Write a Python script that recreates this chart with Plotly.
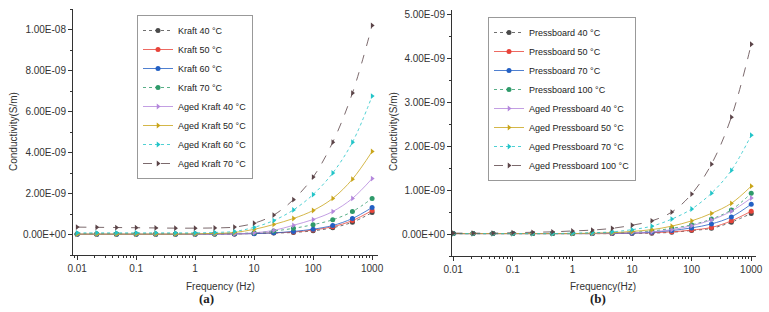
import plotly.graph_objects as go

freq = [0.01, 0.0215, 0.0464, 0.1, 0.215, 0.464, 1, 2.15, 4.64, 10, 21.5, 46.4, 100, 215, 464, 1000]

# Panel (a): conductivity in units of 1e-9 S/m
kraft_names = ["Kraft 40 °C", "Kraft 50 °C", "Kraft 60 °C", "Kraft 70 °C",
               "Aged Kraft 40 °C", "Aged Kraft 50 °C", "Aged Kraft 60 °C", "Aged Kraft 70 °C"]
kraft40 = [0.02, 0.02, 0.02, 0.02, 0.02, 0.02, 0.02, 0.02, 0.03, 0.05, 0.07, 0.10, 0.18, 0.33, 0.60, 1.07]
kraft50 = [0.01, 0.01, 0.01, 0.01, 0.01, 0.01, 0.01, 0.02, 0.03, 0.05, 0.08, 0.12, 0.22, 0.38, 0.68, 1.17]
kraft60 = [0.01, 0.01, 0.01, 0.01, 0.01, 0.01, 0.01, 0.02, 0.03, 0.04, 0.08, 0.15, 0.26, 0.44, 0.78, 1.32]
kraft70 = [0.02, 0.02, 0.02, 0.02, 0.02, 0.02, 0.02, 0.03, 0.05, 0.08, 0.17, 0.30, 0.48, 0.72, 1.12, 1.76]
aged_kraft40 = [0.01, 0.01, 0.01, 0.01, 0.01, 0.01, 0.01, 0.02, 0.03, 0.08, 0.20, 0.45, 0.73, 1.12, 1.76, 2.73]
aged_kraft50 = [0.02, 0.02, 0.02, 0.02, 0.02, 0.02, 0.03, 0.05, 0.10, 0.25, 0.49, 0.78, 1.17, 1.76, 2.70, 4.05]
aged_kraft60 = [0.08, 0.08, 0.08, 0.08, 0.08, 0.08, 0.08, 0.10, 0.15, 0.35, 0.68, 1.20, 1.95, 3.00, 4.50, 6.75]
aged_kraft70 = [0.36, 0.35, 0.34, 0.33, 0.32, 0.31, 0.31, 0.32, 0.36, 0.55, 0.95, 1.70, 2.80, 4.50, 6.90, 10.20]

# Panel (b)
pb_names = ["Pressboard 40 °C", "Pressboard 50 °C", "Pressboard 70 °C", "Pressboard 100 °C",
            "Aged Pressboard 40 °C", "Aged Pressboard 50 °C", "Aged Pressboard 70 °C", "Aged Pressboard 100 °C"]
pb40 = [0.01, 0.01, 0.01, 0.01, 0.01, 0.01, 0.01, 0.01, 0.01, 0.02, 0.02, 0.04, 0.08, 0.13, 0.27, 0.47]
pb50 = [0.01, 0.01, 0.01, 0.01, 0.01, 0.01, 0.01, 0.01, 0.01, 0.02, 0.03, 0.05, 0.09, 0.15, 0.30, 0.52]
pb70 = [0.01, 0.01, 0.01, 0.01, 0.01, 0.01, 0.01, 0.01, 0.02, 0.02, 0.04, 0.08, 0.14, 0.23, 0.39, 0.68]
pb100 = [0.01, 0.01, 0.01, 0.01, 0.01, 0.01, 0.01, 0.02, 0.03, 0.04, 0.07, 0.13, 0.21, 0.34, 0.55, 0.93]
aged_pb40 = [0.01, 0.01, 0.01, 0.01, 0.01, 0.01, 0.01, 0.01, 0.02, 0.03, 0.05, 0.10, 0.19, 0.32, 0.52, 0.82]
aged_pb50 = [0.01, 0.01, 0.01, 0.01, 0.01, 0.01, 0.01, 0.02, 0.03, 0.06, 0.10, 0.18, 0.30, 0.47, 0.70, 1.09]
aged_pb70 = [0.01, 0.01, 0.01, 0.01, 0.01, 0.01, 0.02, 0.03, 0.05, 0.10, 0.18, 0.34, 0.57, 0.93, 1.45, 2.25]
aged_pb100 = [0.02, 0.02, 0.02, 0.03, 0.04, 0.05, 0.07, 0.09, 0.13, 0.20, 0.30, 0.50, 0.91, 1.59, 2.66, 4.32]

x_tickvals = [0.01, 0.1, 1, 10, 100, 1000]
x_ticktext = ["0.01", "0.1", "1", "10", "100", "1000"]
ya_ticks = [0, 2e-9, 4e-9, 6e-9, 8e-9, 1e-8]
yb_ticks = [0, 1e-9, 2e-9, 3e-9, 4e-9, 5e-9]

colors = ["#4a4a4a", "#e8443a", "#2360c4", "#2f9a6a", "#b487dc", "#c9a51a", "#22c4c8", "#5b4448"]
symbols = ["circle", "circle", "circle", "circle",
           "triangle-right", "triangle-right", "triangle-right", "triangle-right"]
dashes = ["dot", "solid", "solid", "dot", "solid", "solid", "dot", "dash"]

W, H = 769, 312
def px_x(p): return p / W
def px_y(p): return 1 - p / H

fig = go.Figure()
series_a = [kraft40, kraft50, kraft60, kraft70, aged_kraft40, aged_kraft50, aged_kraft60, aged_kraft70]
series_b = [pb40, pb50, pb70, pb100, aged_pb40, aged_pb50, aged_pb70, aged_pb100]
for i, (name, vals) in enumerate(zip(kraft_names, series_a)):
    fig.add_trace(go.Scatter(
        x=freq, y=[v * 1e-9 for v in vals], name=name, mode="lines+markers",
        line=dict(color=colors[i], width=0.8, dash=dashes[i], shape="spline"),
        marker=dict(color=colors[i], symbol=symbols[i], size=5),
        xaxis="x", yaxis="y", legend="legend"))
for i, (name, vals) in enumerate(zip(pb_names, series_b)):
    fig.add_trace(go.Scatter(
        x=freq, y=[v * 1e-9 for v in vals], name=name, mode="lines+markers",
        line=dict(color=colors[i], width=0.8, dash=dashes[i], shape="spline"),
        marker=dict(color=colors[i], symbol=symbols[i], size=5),
        xaxis="x2", yaxis="y2", legend="legend2"))

tickfont = dict(family="Liberation Sans, Arial, sans-serif", size=10, color="#333")
common_x = dict(type="log", tickvals=x_tickvals, ticktext=x_ticktext, showline=True,
                linecolor="#333", linewidth=1, ticks="outside", ticklen=4, tickcolor="#333",
                showgrid=False, zeroline=False, tickfont=tickfont, automargin=False,
                minor=dict(ticks="outside", ticklen=2, tickcolor="#333", dtick="D1", showgrid=False))
common_y = dict(showline=True, linecolor="#333", linewidth=1, ticks="outside", ticklen=4,
                tickcolor="#333", showgrid=False, zeroline=False, tickfont=tickfont, automargin=False)

fig.update_layout(
    width=W, height=H, margin=dict(l=0, r=0, t=0, b=0, autoexpand=False),
    paper_bgcolor="white", plot_bgcolor="white",
    font=dict(family="Liberation Sans, Arial, sans-serif", size=10, color="#333"),
    xaxis=dict(domain=[px_x(73), px_x(378)], range=[-2.07, 3.1], anchor="y", **common_x),
    xaxis2=dict(domain=[px_x(452), px_x(756)], range=[-2.02, 3.08], anchor="y2", **common_x),
    yaxis=dict(domain=[px_y(255), px_y(9)], range=[-1e-9, 1.1e-8], anchor="x",
               tickvals=ya_ticks, ticktext=[f"{v:.2E}" for v in ya_ticks],
               minor=dict(ticks="outside", ticklen=2, tickcolor="#333", dtick=1e-9, showgrid=False),
               **common_y),
    yaxis2=dict(domain=[px_y(256), px_y(10)], range=[-0.5e-9, 5.1e-9], anchor="x2",
                tickvals=yb_ticks, ticktext=[f"{v:.2E}" for v in yb_ticks],
                minor=dict(ticks="outside", ticklen=2, tickcolor="#333", dtick=0.5e-9, showgrid=False),
                **common_y),
    legend=dict(x=px_x(137), y=px_y(15), xanchor="left", yanchor="top",
                bordercolor="#999", borderwidth=1, bgcolor="white",
                font=dict(size=9, color="#222"), tracegroupgap=0, itemwidth=30),
    legend2=dict(x=px_x(488), y=px_y(17), xanchor="left", yanchor="top",
                 bordercolor="#999", borderwidth=1, bgcolor="white",
                 font=dict(size=9, color="#222"), tracegroupgap=0, itemwidth=30),
    showlegend=True,
)

annots = [
    dict(text="Conductivity(S/m)", x=px_x(13), y=px_y(132), textangle=-90, size=10),
    dict(text="Conductivity(S/m)", x=px_x(393), y=px_y(132), textangle=-90, size=10),
    dict(text="Frequency (Hz)", x=px_x(220), y=px_y(286), textangle=0, size=10),
    dict(text="Frequency(Hz)", x=px_x(603), y=px_y(286), textangle=0, size=10),
]
for a in annots:
    fig.add_annotation(text=a["text"], x=a["x"], y=a["y"], xref="paper", yref="paper",
                       showarrow=False, textangle=a["textangle"], xanchor="center", yanchor="middle",
                       font=dict(size=a["size"], color="#333", family="Liberation Sans, Arial, sans-serif"))
for txt, xp in [("<b>(a)</b>", 207), ("<b>(b)</b>", 598)]:
    fig.add_annotation(text=txt, x=px_x(xp), y=px_y(298), xref="paper", yref="paper",
                       showarrow=False, xanchor="center", yanchor="middle",
                       font=dict(size=13, color="#222", family="Liberation Serif, Times New Roman, serif"))

fig.write_html("out.html", config={"displayModeBar": False},
               post_script="document.body.style.margin='0';document.body.style.overflow='hidden';")
